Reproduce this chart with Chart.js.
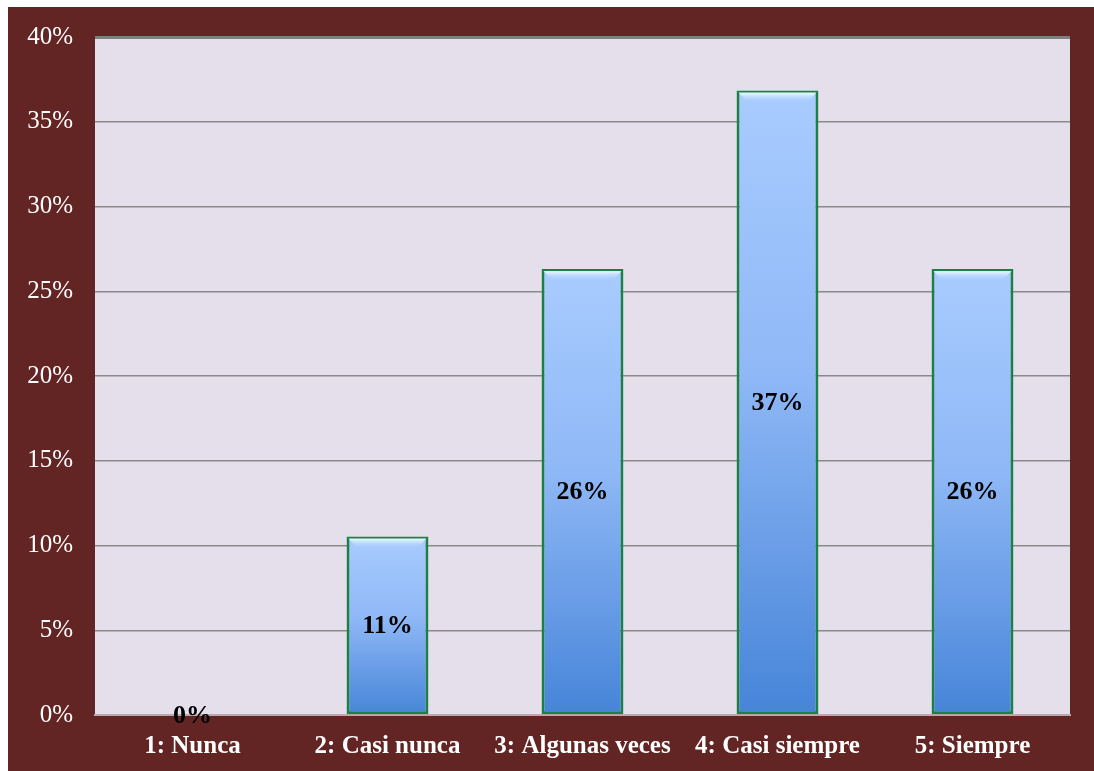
<!DOCTYPE html>
<html>
<head>
<meta charset="utf-8">
<script src="https://cdn.jsdelivr.net/npm/chart.js@4.4.1/dist/chart.umd.min.js"></script>
<style>
  html, body { margin: 0; padding: 0; background: #ffffff; }
  #box { position: absolute; left: 8px; top: 7px; width: 1086px; height: 764px; background: #632523; }
</style>
</head>
<body>
<div id="box"><canvas id="myChart" width="1086" height="764"></canvas></div>
<script>
const categories = ['1: Nunca', '2: Casi nunca', '3: Algunas veces', '4: Casi siempre', '5: Siempre'];
const percentValues = [0, 10.53, 26.32, 36.84, 26.32];
const valueLabels = ['0%', '11%', '26%', '37%', '26%'];
const yTicks = [0, 5, 10, 15, 20, 25, 30, 35, 40];

const serif = '"Liberation Serif", "DejaVu Serif", serif';

// plot area fill + bar labels
const plotDecor = {
    id: 'plotDecor',
    beforeDraw(chart) {
        const a = chart.chartArea;
        const c = chart.ctx;
        c.save();
        c.fillStyle = '#e5dfec';
        c.fillRect(a.left, a.top, a.right - a.left, a.bottom - a.top);
        c.restore();
    },
    afterDatasetsDraw(chart) {
        const c = chart.ctx;
        const meta = chart.getDatasetMeta(0);
        c.save();
        // bevel highlight at the top of each bar
        meta.data.forEach(function(bar) {
            const h = bar.base - bar.y;
            if (h < 4) return;
            const left = bar.x - bar.width / 2 + 2;
            const right = bar.x + bar.width / 2 - 2;
            const g = c.createLinearGradient(0, bar.y + 2, 0, bar.y + 12);
            g.addColorStop(0, 'rgba(240,252,255,1)');
            g.addColorStop(1, 'rgba(170,205,255,0)');
            c.fillStyle = g;
            c.beginPath();
            c.moveTo(left, bar.y + 2);
            c.lineTo(right, bar.y + 2);
            c.lineTo(right - 9, bar.y + 12);
            c.lineTo(left + 9, bar.y + 12);
            c.closePath();
            c.fill();
        });
        c.fillStyle = '#000000';
        c.font = 'bold 26px ' + serif;
        c.textAlign = 'center';
        c.textBaseline = 'middle';
        meta.data.forEach(function(bar, i) {
            c.fillText(valueLabels[i], bar.x, (bar.y + bar.base) / 2 + 1);
        });
        c.restore();
    }
};

function barGradient(context) {
    const chart = context.chart;
    const y = chart.scales.y;
    if (!chart.chartArea || !y) return '#7aa8ec';
    const top = y.getPixelForValue(context.raw);
    const bottom = y.getPixelForValue(0);
    const g = chart.ctx.createLinearGradient(0, top, 0, bottom + 1);
    g.addColorStop(0, '#a9ccff');
    g.addColorStop(0.45, '#8fb8f6');
    g.addColorStop(1, '#4684d8');
    return g;
}

const ctx = document.getElementById('myChart').getContext('2d');
const myChart = new Chart(ctx, {
    type: 'bar',
    data: {
        labels: categories,
        datasets: [{
            data: percentValues,
            backgroundColor: barGradient,
            borderColor: '#1a8048',
            borderWidth: 3,
            borderSkipped: false,
            categoryPercentage: 1,
            barPercentage: 0.42
        }]
    },
    options: {
        responsive: false,
        animation: false,
        layout: { padding: { top: 30, right: 24, left: 0, bottom: 0 } },
        plugins: {
            legend: { display: false },
            tooltip: { enabled: false }
        },
        scales: {
            x: {
                afterFit: function(s) { s.height = 56; },
                grid: { display: false, drawTicks: false },
                border: { display: true, color: '#b8a9ad', width: 2 },
                ticks: {
                    color: '#ffffff',
                    padding: 17,
                    maxRotation: 0,
                    autoSkip: false,
                    font: { family: serif, size: 25, weight: 'bold' }
                }
            },
            y: {
                min: 0,
                max: 40,
                afterFit: function(s) {
                    s.width = 87;
                    s.paddingTop = 0;
                    s.paddingBottom = 0;
                },
                afterBuildTicks: function(s) { s.ticks = yTicks.map(function(v) { return { value: v }; }); },
                grid: {
                    drawTicks: false,
                    color: function(c) { return c.tick.value === 40 ? '#7f7f7f' : (c.tick.value === 0 ? 'rgba(0,0,0,0)' : '#8a8a8a'); },
                    lineWidth: function(c) { return c.tick.value === 40 ? 3 : 1.5; }
                },
                border: { display: false },
                ticks: {
                    color: '#ffffff',
                    padding: 22,
                    font: { family: serif, size: 25 },
                    callback: function(v) { return v + '%'; }
                }
            }
        }
    },
    plugins: [plotDecor]
});
</script>
</body>
</html>
